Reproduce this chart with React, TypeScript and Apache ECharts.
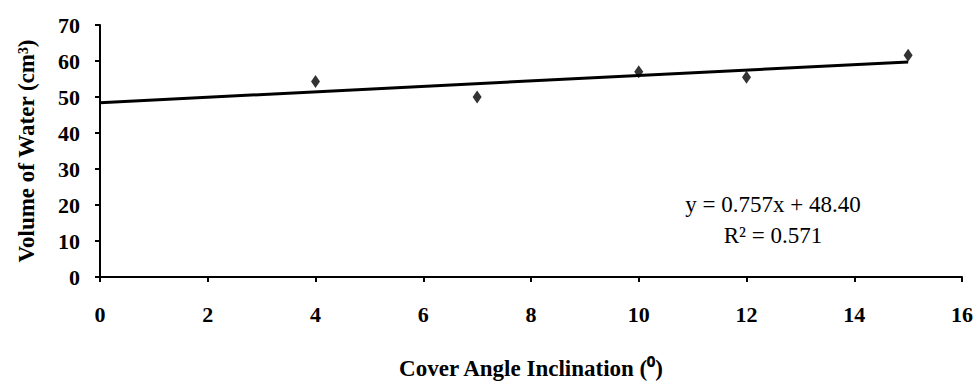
import React, { useEffect, useRef } from "react";
import * as echarts from "echarts";

const angles = [4, 7, 10, 12, 15];
const volumes = [54.3, 50.0, 57.0, 55.5, 61.6];
const slope = 0.757;
const intercept = 48.4;
const trendX = [0, 15];
const equationLines = ["y = 0.757x + 48.40", "R\u00B2 = 0.571"];

const FONT = "'Liberation Serif', 'Times New Roman', serif";

export default function App() {
  const ref = useRef<HTMLDivElement>(null);
  useEffect(() => {
    if (!ref.current) return;
    const chart = echarts.init(ref.current, undefined, { renderer: "svg" });
    const trend = trendX.map((x) => [x, intercept + slope * x]);
    chart.setOption({
      animation: false,
      backgroundColor: "#ffffff",
      grid: {
        left: 100,
        right: 16,
        top: 25,
        bottom: 104,
        containLabel: false,
        outerBoundsMode: "none",
      },
      xAxis: {
        type: "value",
        min: 0,
        max: 16,
        interval: 2,
        name: "Cover Angle Inclination (\u2070)",
        nameLocation: "middle",
        nameGap: 80,
        nameTextStyle: { fontFamily: FONT, fontWeight: "bold", fontSize: 23, color: "#000" },
        axisLine: { lineStyle: { color: "#000", width: 2 } },
        axisTick: { show: true, inside: false, length: 5, lineStyle: { color: "#000", width: 2 } },
        axisLabel: { fontFamily: FONT, fontWeight: "bold", fontSize: 22, color: "#000", margin: 26 },
        splitLine: { show: false },
      },
      yAxis: {
        type: "value",
        min: 0,
        max: 70,
        interval: 10,
        name: "Volume of Water (cm\u00B3)",
        nameLocation: "middle",
        nameGap: 62,
        nameRotate: 90,
        nameTextStyle: { fontFamily: FONT, fontWeight: "bold", fontSize: 23, color: "#000" },
        axisLine: { show: true, lineStyle: { color: "#000", width: 2 } },
        axisTick: { show: true, inside: false, length: 5, lineStyle: { color: "#000", width: 2 } },
        axisLabel: { fontFamily: FONT, fontWeight: "bold", fontSize: 22, color: "#000", margin: 20 },
        splitLine: { show: false },
      },
      series: [
        {
          type: "line",
          data: trend,
          showSymbol: false,
          symbol: "none",
          lineStyle: { color: "#000", width: 3 },
          z: 2,
        },
        {
          type: "scatter",
          data: angles.map((a, i) => [a, volumes[i]]),
          symbol: "diamond",
          symbolSize: [9, 13],
          itemStyle: { color: "#000" },
          z: 3,
        },
      ],
      graphic: equationLines.map((t, i) => ({
        type: "text",
        x: 773,
        y: 204 + i * 31,
        style: {
          text: t,
          fontFamily: FONT,
          fontSize: 23,
          fill: "#000",
          textAlign: "center",
          textVerticalAlign: "middle",
        },
      })),
    });
    return () => chart.dispose();
  }, []);
  return (
    <div
      ref={ref}
      style={{ position: "fixed", left: 0, top: 0, width: 978, height: 381 }}
    />
  );
}
